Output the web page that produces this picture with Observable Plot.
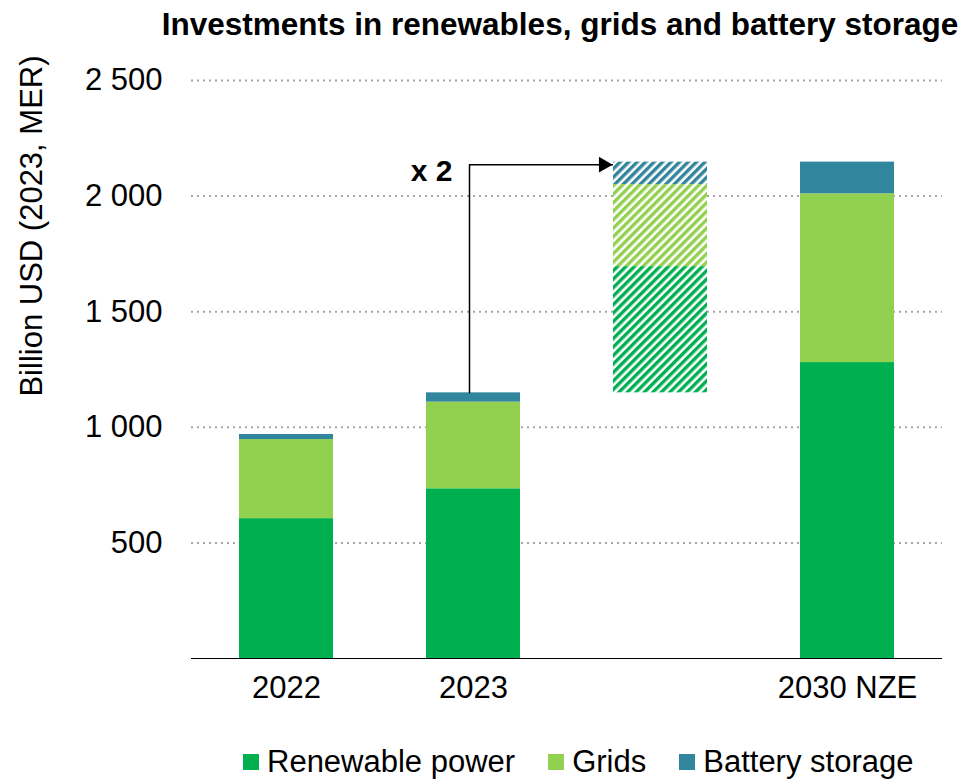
<!DOCTYPE html>
<html>
<head>
<meta charset="utf-8">
<script src="https://cdn.jsdelivr.net/npm/d3@7"></script>
<script src="https://cdn.jsdelivr.net/npm/@observablehq/plot@0.6"></script>
<style>
  html, body { margin: 0; padding: 0; background: #fff; }
  #page { position: relative; width: 970px; height: 779px; overflow: hidden; font-family: "Liberation Sans", Arial, sans-serif; color: #000; }
  #title { position: absolute; top: 9px; left: 150px; width: 820px; text-align: center; font-weight: bold; font-size: 31.5px; line-height: 1; white-space: nowrap; }
  #chart { position: absolute; top: 50px; left: 0; }
  #ylabel { position: absolute; left: -168px; top: 210px; width: 400px; height: 32px; line-height: 32px; text-align: center; font-size: 31px; white-space: nowrap; transform: rotate(-90deg); transform-origin: 50% 50%; }
  #legend { position: absolute; top: 746px; left: 243px; display: flex; align-items: center; font-size: 31px; line-height: 31px; white-space: nowrap; }
  .item { display: flex; align-items: center; margin-right: 33px; }
  .sw { width: 16px; height: 16px; margin-right: 8px; }
</style>
</head>
<body>
<div id="page">
  <div id="title">Investments in renewables, grids and battery storage</div>
  <div id="chart"></div>
  <div id="ylabel"></div>
  <div id="legend"></div>
</div>
<script>
// ---- Data ----
const categories = ["2022", "2023", "2030 NZE"];
const series = ["Renewable power", "Grids", "Battery storage"];
const colors = ["#00b050", "#92d050", "#31859c"];
const renewablePower = [605, 734, 1280];
const grids = [342, 375, 730];
const batteryStorage = [22, 40, 137];

// hatched "gap" bar: increments needed from 2023 to 2030 NZE
const gapCategory = "gap";
const gapBase = 1149;
const gapIncrements = [546, 355, 97]; // renewable, grids, battery

const arrowLevel = 2136;
const arrowLabel = "x 2";
const yTicks = [500, 1000, 1500, 2000, 2500];
const yLabel = "Billion USD (2023, MER)";

// ---- Tables built from the arrays ----
const seriesValues = [renewablePower, grids, batteryStorage];
const mainRows = [];
categories.forEach((c, i) => {
  series.forEach((s, j) => mainRows.push({cat: c, series: s, value: seriesValues[j][i]}));
});
const total2023 = renewablePower[1] + grids[1] + batteryStorage[1];
let acc = gapBase;
const gapRows = series.map((s, j) => {
  const r = {cat: gapCategory, series: s, idx: j, y1: acc, y2: acc + gapIncrements[j]};
  acc += gapIncrements[j];
  return r;
});
const arrowPath = [
  {cat: "2023", v: total2023},
  {cat: "2023", v: arrowLevel},
  {cat: gapCategory, v: arrowLevel}
];

const xDomain = ["2022", "2023", gapCategory, "2030 NZE"];
const fmt = d => d3.format(",")(d).replace(/,/g, " ");

const plot = Plot.plot({
  width: 970,
  height: 680,
  marginTop: 30,
  marginBottom: 72,
  marginLeft: 191,
  marginRight: 28,
  style: {fontFamily: "'Liberation Sans', Arial, sans-serif", fontSize: "31px", color: "#000", background: "transparent"},
  x: {domain: xDomain, paddingInner: 0.5, paddingOuter: 0.25, label: null},
  y: {domain: [0, 2500], label: null},
  color: {domain: series, range: colors},
  marks: [
    Plot.gridY(yTicks, {stroke: "#a5a5a5", strokeOpacity: 1, strokeWidth: 2, strokeDasharray: "2,4"}),
    Plot.barY(mainRows, Plot.stackY({x: "cat", y: "value", fill: "series", order: series})),
    Plot.line(arrowPath, {x: "cat", y: "v", stroke: "#000", strokeWidth: 1.5, dx: -4, curve: "linear"}),
    ...gapRows.map(r => Plot.barY([r], {x: "cat", y1: "y1", y2: "y2", fill: `url(#hatch-${r.idx})`})),
    Plot.dot([arrowPath[2]], {x: "cat", y: "v", symbol: "triangle", rotate: 90, r: 5.9, fill: "#000", stroke: "none", dx: -57}),
    Plot.text([arrowPath[1]], {x: "cat", y: "v", text: () => arrowLabel, textAnchor: "end", fontWeight: "bold", fontSize: 30, dx: -21, dy: 7}),
    Plot.ruleY([0], {stroke: "#000", strokeWidth: 1}),
    Plot.axisY(yTicks, {tickSize: 0, tickPadding: 29, tickFormat: fmt, label: null}),
    Plot.axisX({tickSize: 0, tickPadding: 17, tickFormat: d => d === gapCategory ? "" : d, label: null})
  ]
});

// hatch patterns
const defs = d3.select(plot).insert("defs", ":first-child");
colors.forEach((c, i) => {
  const p = defs.append("pattern")
    .attr("id", `hatch-${i}`)
    .attr("patternUnits", "userSpaceOnUse")
    .attr("width", 6).attr("height", 6)
    .attr("patternTransform", "rotate(45)");
  p.append("rect").attr("width", 6).attr("height", 6).attr("fill", "#fff");
  p.append("rect").attr("width", 3.4).attr("height", 6).attr("fill", c);
});

document.getElementById("chart").appendChild(plot);
document.getElementById("ylabel").textContent = yLabel;

// legend
const legend = d3.select("#legend");
series.forEach((s, i) => {
  const it = legend.append("div").attr("class", "item");
  it.append("div").attr("class", "sw").style("background", colors[i]);
  it.append("span").text(s);
});
</script>
</body>
</html>
